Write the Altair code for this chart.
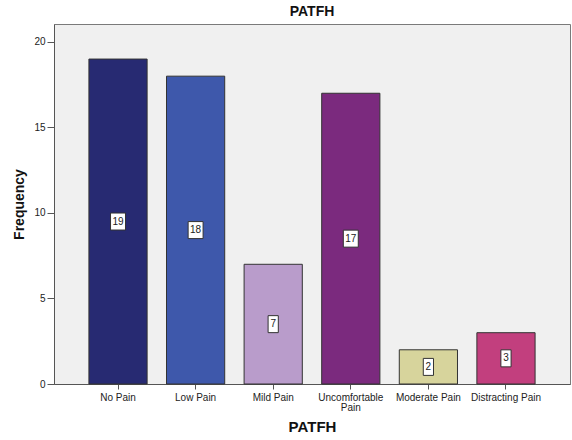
import altair as alt
import pandas as pd

# Pain categories and their counts
categories = ["No Pain", "Low Pain", "Mild Pain", "Uncomfortable Pain",
              "Moderate Pain", "Distracting Pain"]
counts = [19, 18, 7, 17, 2, 3]
bar_colors = ["#272a72", "#3e58ab", "#b99ccb", "#7b2a7e", "#d7d49c", "#c23f7e"]

df = pd.DataFrame({"category": categories, "count": counts})
df["mid"] = df["count"] / 2
# label box outline: narrower for one-digit counts
df["box"] = [
    "M -0.88 -1 L 0.88 -1 L 0.88 1 L -0.88 1 Z" if c >= 10
    else "M -0.6 -1 L 0.6 -1 L 0.6 1 L -0.6 1 Z"
    for c in counts
]

font = "Liberation Sans"

x_enc = alt.X(
    "category:N",
    sort=categories,
    title="PATFH",
    scale=alt.Scale(paddingInner=0.25, paddingOuter=0.45),
    axis=alt.Axis(
        labelAngle=0,
        labelFontSize=10,
        labelColor="#222222",
        labelFont=font,
        labelPadding=3,
        labelLineHeight=10,
        labelExpr="datum.label == 'Uncomfortable Pain' ? ['Uncomfortable', 'Pain'] : datum.label",
        tickSize=5,
        tickColor="#555555",
        domainColor="#555555",
        titleFontSize=15,
        titleFont=font,
        titleFontWeight="bold",
        titleColor="#111111",
        titlePadding=7,
    ),
)

y_scale = alt.Scale(domain=[0, 21.05], nice=False)

bars = alt.Chart(df).mark_bar(stroke="#333333", strokeWidth=1, opacity=1).encode(
    x=x_enc,
    y=alt.Y(
        "count:Q",
        title="Frequency",
        scale=y_scale,
        axis=alt.Axis(
            values=[0, 5, 10, 15, 20],
            grid=False,
            labelFontSize=10,
            labelColor="#222222",
            labelFont=font,
            labelPadding=2,
            tickSize=7,
            tickColor="#555555",
            domainColor="#555555",
            titleFontSize=14,
            titleFont=font,
            titleFontWeight="bold",
            titleColor="#111111",
            titlePadding=7,
        ),
    ),
    color=alt.Color("category:N", sort=categories,
                    scale=alt.Scale(domain=categories, range=bar_colors),
                    legend=None),
)

boxes = alt.Chart(df).mark_point(
    filled=True, fill="white", stroke="#333333", strokeWidth=1, opacity=1
).encode(
    x=alt.X("category:N", sort=categories),
    y=alt.Y("mid:Q", scale=y_scale),
    shape=alt.Shape("box:N", scale=None),
    size=alt.value(289),
)

labels = alt.Chart(df).mark_text(
    fontSize=10, font=font, color="#222222", baseline="middle", align="center"
).encode(
    x=alt.X("category:N", sort=categories),
    y=alt.Y("mid:Q", scale=y_scale),
    text="count:Q",
)

chart = (
    alt.layer(bars, boxes, labels)
    .properties(
        width=516,
        height=360,
        autosize=alt.AutoSizeParams(type="none"),
        padding={"left": 54, "top": 24, "right": 2, "bottom": 56},
        background="white",
        title=alt.TitleParams(
            "PATFH", fontSize=14, font=font, fontWeight="bold",
            color="#111111", offset=5, anchor="middle",
        ),
    )
    .configure_view(fill="#f0f0f0", stroke="#7a7a7a", strokeWidth=1)
)

chart.save("out.html", embed_options={"renderer": "svg", "actions": False})
